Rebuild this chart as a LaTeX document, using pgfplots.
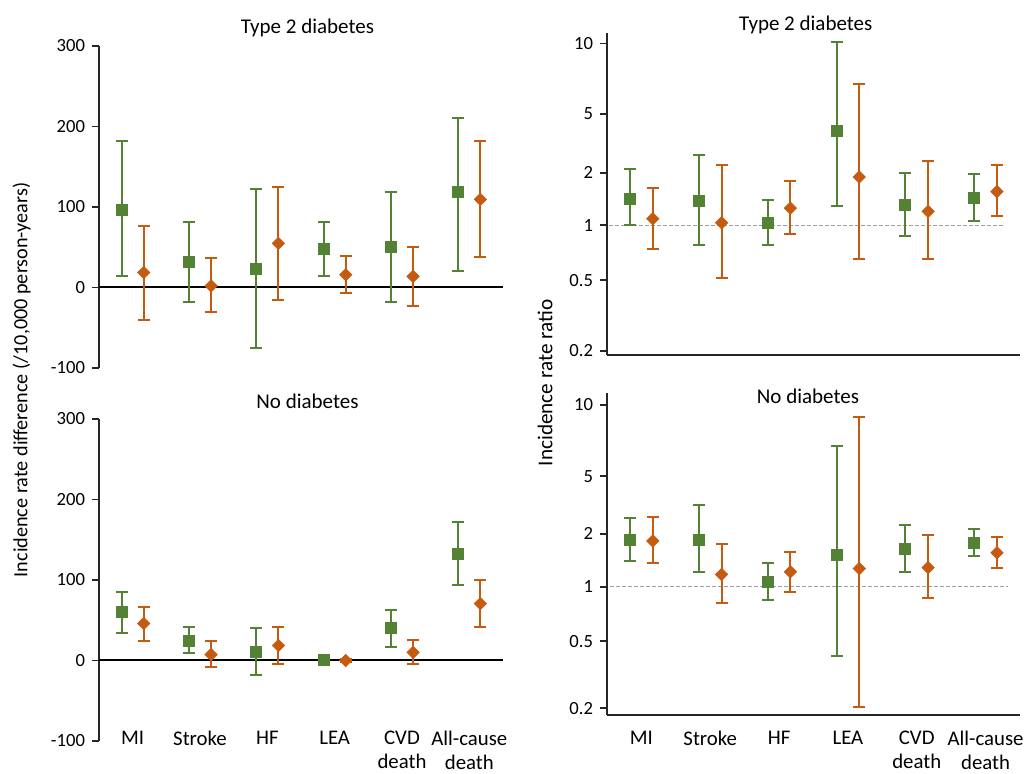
\documentclass[border=0pt]{standalone}
\usepackage{pgfplots}
\pgfplotsset{compat=1.18}
\usepackage{pgfplotstable}
\usepackage{fontspec}
\setmainfont{Carlito}
\definecolor{cgreen}{HTML}{548235}
\definecolor{corange}{HTML}{C55A11}
\definecolor{axisgray}{HTML}{262626}

% columns: category index, point estimate, lower CI, upper CI
\pgfplotstableread{
i y lo hi
0 97 14 181.7
1 31.5 -18.3 81.7
2 23.7 -75.5 122.4
3 47.7 14 81.7
4 50.6 -17.4 119
5 119 21 210.8
}\tlgreen
\pgfplotstableread{
i y lo hi
0 18.7 -40.7 77
1 2 -30.7 37
2 54.8 -15.4 124.5
3 15.8 -7 38.6
4 13.7 -23 50.6
5 109.5 38 181.7
}\tlorange
\pgfplotstableread{
i y lo hi
0 60 34.3 85.6
1 24.8 8.7 41.4
2 10.8 -18.6 40.5
3 1.2 0 2.5
4 40 17 62.5
5 132.8 94 172
}\blgreen
\pgfplotstableread{
i y lo hi
0 45.9 24.8 67
1 7.4 -7.9 24
2 18.6 -4.1 41.4
3 0 -1.5 1.5
4 10 -4.1 25.2
5 70.7 41 100
}\blorange
\pgfplotstableread{
i y lo hi
0 1.40 1.00 2.04
1 1.356 0.772 2.42
2 1.03 0.772 1.38
3 3.31 1.28 10.2
4 1.29 0.87 1.94
5 1.415 1.05 1.92
}\trgreen
\pgfplotstableread{
i y lo hi
0 1.083 0.734 1.61
1 1.03 0.512 2.13
2 1.24 0.888 1.74
3 1.84 0.647 6.0
4 1.19 0.647 2.26
5 1.53 1.12 2.13
}\trorange
\pgfplotstableread{
i y lo hi
0 1.81 1.39 2.40
1 1.81 1.20 2.81
2 1.065 0.848 1.35
3 1.50 0.418 5.98
4 1.62 1.21 2.19
5 1.75 1.48 2.09
}\brgreen
\pgfplotstableread{
i y lo hi
0 1.79 1.36 2.41
1 1.17 0.82 1.71
2 1.21 0.939 1.56
3 1.26 0.218 8.56
4 1.277 0.867 1.92
5 1.54 1.27 1.88
}\brorange

\pgfplotsset{
  table/gtab/.style={x expr=\thisrow{i}-0.165, y=y,
    y error plus expr=\thisrow{hi}-\thisrow{y}, y error minus expr=\thisrow{y}-\thisrow{lo}},
  table/otab/.style={x expr=\thisrow{i}+0.165, y=y,
    y error plus expr=\thisrow{hi}-\thisrow{y}, y error minus expr=\thisrow{y}-\thisrow{lo}},
  base/.style={
    scale only axis, clip=false,
    xmin=-0.5, xmax=5.5, xtick={0,...,5},
    axis y line*=left, axis x line*=bottom,
    axis line style={-, line width=0.9pt, color=axisgray},
    xtick style={draw=none},
    ytick style={line width=0.9pt, color=axisgray},
    major tick length=3.5pt, tick align=outside,
    yticklabel style={font=\fontsize{9.3}{11}\selectfont, text=black},
    xticklabel style={font=\fontsize{10.4}{12.1}\selectfont, align=center, anchor=north, text=black, inner ysep=0.5pt},
    title style={font=\fontsize{10.5}{12.6}\selectfont, anchor=center, at={(0.5,1)}},
  },
  gser/.style={only marks, mark=square*, mark size=2.75pt, color=cgreen,
    error bars/y dir=both, error bars/y explicit,
    error bars/error bar style={line width=1pt, color=cgreen},
    error bars/error mark options={color=cgreen, mark size=3pt, line width=1pt, rotate=90}},
  oser/.style={only marks, mark=square*, mark size=2.15pt, mark options={rotate=45}, color=corange,
    error bars/y dir=both, error bars/y explicit,
    error bars/error bar style={line width=1pt, color=corange},
    error bars/error mark options={color=corange, mark size=3pt, line width=1pt, rotate=90}},
}

\begin{document}
\begin{tikzpicture}
% top left
\begin{axis}[base, width=202pt, height=161pt, ymin=-100, ymax=300,
  ytick={-100,0,100,200,300}, x axis line style={draw=none},
  /pgf/number format/assume math mode=true,
  at={(49.5pt,-184pt)}, anchor=south west,
  xticklabels={}, title={Type 2 diabetes}, title style={yshift=3pt, xshift=3.25pt}]
\addplot[black, line width=1pt, forget plot] coordinates {(-0.5,0) (5.5,0)};
\addplot[gser] table[gtab]{\tlgreen};
\addplot[oser] table[otab]{\tlorange};
\end{axis}
% bottom left
\begin{axis}[base, width=202pt, height=161pt, ymin=-100, ymax=300,
  ytick={-100,0,100,200,300}, x axis line style={draw=none},
  /pgf/number format/assume math mode=true,
  at={(49.5pt,-370.5pt)}, anchor=south west,
  xticklabels={MI,Stroke,HF,LEA,CVD\\death,All-cause\\death},
  xticklabel style={yshift=9.1pt},
  title={No diabetes}, title style={yshift=3pt, xshift=3.25pt}]
\addplot[black, line width=1pt, forget plot] coordinates {(-0.5,0) (5.5,0)};
\addplot[gser] table[gtab]{\blgreen};
\addplot[oser] table[otab]{\blorange};
\end{axis}
% top right
\begin{axis}[base, ymode=log, width=206.5pt, height=161pt,
  /pgf/number format/assume math mode=true,
  at={(303.5pt,-177.5pt)}, anchor=south west,
  ymin=0.1925, ymax=11.43, ytick={0.203,0.497,1,1.94,4.1,10},
  yticklabels={0.2,0.5,1,2,5,10},
  xticklabels={}, title={Type 2 diabetes}, title style={yshift=-1.8pt, xshift=-3.85pt}]
\addplot[color=black!38, dash pattern=on 2pt off 1pt, line width=0.5pt, forget plot] coordinates {(-0.47,1) (5.25,1)};
\addplot[gser] table[gtab]{\trgreen};
\addplot[oser] table[otab]{\trorange};
\end{axis}
% bottom right
\begin{axis}[base, ymode=log, width=206.5pt, height=161pt,
  /pgf/number format/assume math mode=true,
  at={(303.5pt,-357.5pt)}, anchor=south west,
  ymin=0.1975, ymax=11.64, ytick={0.215,0.503,1,1.96,4.06,10},
  yticklabels={0.2,0.5,1,2,5,10},
  xticklabels={MI,Stroke,HF,LEA,CVD\\death,All-cause\\death},
  xticklabel style={yshift=-3.9pt},
  title={No diabetes}, title style={yshift=-7.5pt, xshift=-2.75pt}]
\addplot[color=black!38, dash pattern=on 2pt off 1pt, line width=0.5pt, forget plot] coordinates {(-0.45,1) (5.32,1)};
\addplot[gser] table[gtab]{\brgreen};
\addplot[oser] table[otab]{\brorange};
\end{axis}
% y axis labels
\node[rotate=90, font=\fontsize{10.1}{12.6}\selectfont] at (10.85pt,-190pt) {Incidence rate difference (/10,000 person-years)};
\node[rotate=90, font=\fontsize{10.6}{12.6}\selectfont] at (272.5pt,-191.5pt) {Incidence rate ratio};
\pgfresetboundingbox
\path (0pt,0pt) rectangle (515pt,-387pt);
\end{tikzpicture}
\end{document}
